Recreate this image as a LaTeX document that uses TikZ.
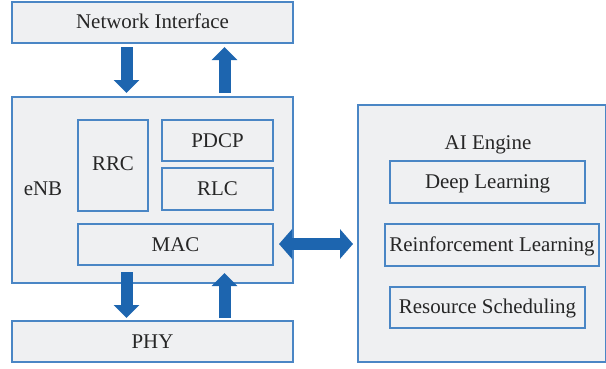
\documentclass[tikz,border=0pt]{standalone}
\usepackage{fontspec}
\setmainfont{Liberation Serif}
\usetikzlibrary{arrows.meta}
\definecolor{boxfill}{HTML}{EFF0F2}
\definecolor{boxline}{HTML}{4A86C5}
\definecolor{arrowblue}{HTML}{1D65AF}
\tikzset{
  x=1bp, y=-1bp,
  blk/.style={draw=boxline, fill=boxfill, line width=1.1bp},
  lbl/.style={font=\fontsize{21}{24}\selectfont, text=black!85, inner sep=0pt, anchor=base, yshift=-7.5bp},
  blockarrow/.style={draw=arrowblue, line width=12bp, -{Triangle[width=25bp,length=13bp,fill=arrowblue]}},
  dblarrow/.style={draw=arrowblue, line width=12bp, {Triangle[width=29bp,length=13bp,fill=arrowblue]}-{Triangle[width=29bp,length=13bp,fill=arrowblue]}},
}
\begin{document}
\begin{tikzpicture}
\useasboundingbox (0,0) rectangle (606,368);
% boxes
\draw[blk] (12,2) rectangle (293,43);
\node[lbl] (ni) at (152.5,21) {Network Interface};
\draw[blk] (12,97) rectangle (293,283);
\node[lbl] (enb) at (43,188) {eNB};
\draw[blk] (78,120) rectangle (148,211);
\node[lbl] (rrc) at (113,163) {RRC};
\draw[blk] (162,120) rectangle (273,161);
\node[lbl] (pdcp) at (217.5,140) {PDCP};
\draw[blk] (162,168) rectangle (273,210);
\node[lbl] (rlc) at (217.5,188) {RLC};
\draw[blk] (78,224) rectangle (273,265);
\node[lbl] (mac) at (175.5,244) {MAC};
\draw[blk] (12,321) rectangle (293,362);
\node[lbl] (phy) at (152.5,341) {PHY};
\draw[blk] (358,105) rectangle (606,362);
\node[lbl] (ai) at (488,142) {AI Engine};
\draw[blk] (390,161) rectangle (585,203);
\node[lbl] (dl) at (487.5,181) {Deep Learning};
\draw[blk] (385,224) rectangle (599,266);
\node[lbl] (rl) at (492,244) {Reinforcement Learning};
\draw[blk] (390,287) rectangle (585,328);
\node[lbl] (rs) at (487.5,306) {Resource Scheduling};
% arrow endpoints
\coordinate (d1s) at (126.5,47);
\coordinate (d1e) at (126.5,93);
\coordinate (u1s) at (224.5,93);
\coordinate (u1e) at (224.5,47);
\coordinate (d2s) at (126.5,272);
\coordinate (d2e) at (126.5,318);
\coordinate (u2s) at (224.5,318);
\coordinate (u2e) at (224.5,273);
\coordinate (hl) at (279,244);
\coordinate (hr) at (353,244);
\draw[blockarrow] (d1s) -- (d1e);
\draw[blockarrow] (u1s) -- (u1e);
\draw[blockarrow] (d2s) -- (d2e);
\draw[blockarrow] (u2s) -- (u2e);
\draw[dblarrow] (hl) -- (hr);
\end{tikzpicture}
\end{document}
